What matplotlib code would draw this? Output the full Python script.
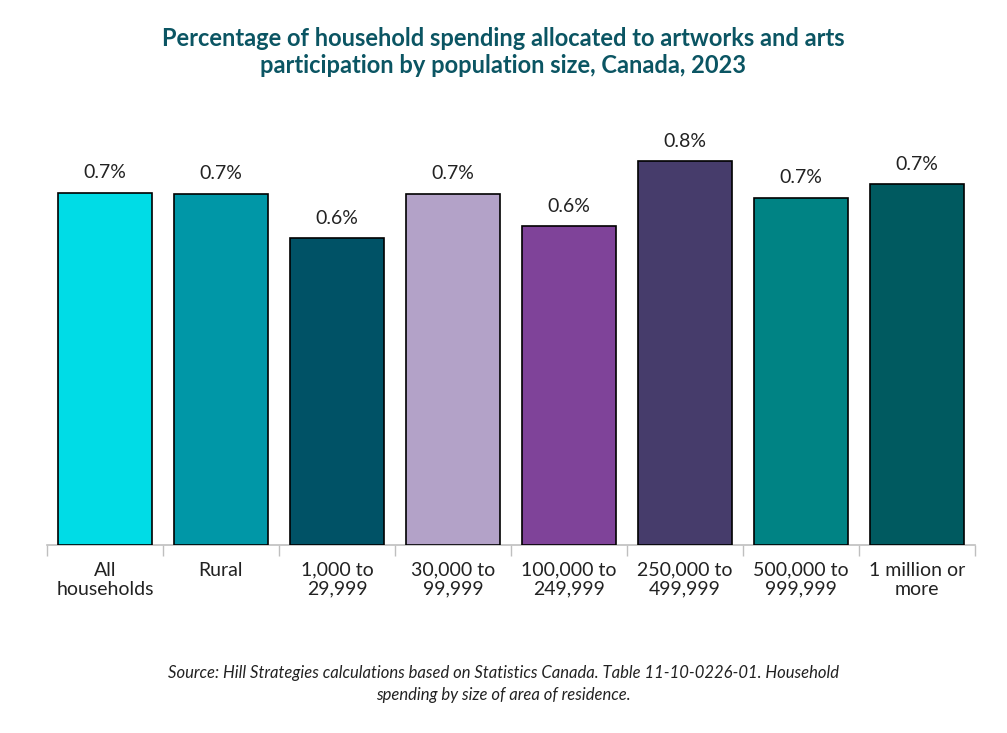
import matplotlib
matplotlib.use("Agg")
import matplotlib.pyplot as plt
import numpy as np

categories = ["All\nhouseholds", "Rural", "1,000 to\n29,999", "30,000 to\n99,999", "100,000 to\n249,999",
              "250,000 to\n499,999", "500,000 to\n999,999", "1 million or\nmore"]
values = [0.700, 0.698, 0.610, 0.698, 0.634, 0.762, 0.690, 0.716]
colors = ["#00DCE6", "#0097A7", "#005266", "#B3A2C8", "#7F4399", "#463C6B", "#008384", "#005A60"]

plt.rcParams['font.family'] = ['Lato', 'DejaVu Sans']
fig = plt.figure(figsize=(10.07, 7.33), dpi=100)
ax = fig.add_axes([47/1007, 1-545/733, 928/1007, (545-117)/733])
x = np.arange(len(categories))
ax.bar(x, values, width=0.81, color=colors, edgecolor="black", linewidth=1.2, zorder=3)
for xi, v in zip(x, values):
    ax.text(xi, v + 0.022, f"{v:.1f}%", ha="center", va="bottom", fontsize=14, color="#222222")
ax.set_xlim(-0.5, len(categories) - 0.5)
ax.set_ylim(0, 0.85)
ax.set_yticks([])
ax.set_xticks(x)
ax.set_xticklabels(categories, fontsize=14, color="#222222", linespacing=1.15)
ax.tick_params(axis="x", which="major", length=0, pad=12)
ax.set_xticks(np.arange(-0.5, len(categories)), minor=True)
ax.tick_params(axis="x", which="minor", length=8, color="#BFBFBF", width=1)
for s in ["top", "right", "left"]:
    ax.spines[s].set_visible(False)
ax.spines["bottom"].set_color("#BFBFBF")
ax.spines["bottom"].set_linewidth(1.2)

fig.text(0.5, 1-52/733, "Percentage of household spending allocated to artworks and arts\nparticipation by population size, Canada, 2023",
         ha="center", va="center", fontsize=17, fontweight="bold", color="#0B5563", linespacing=1.25)
fig.text(0.5, 1-684/733, "Source: Hill Strategies calculations based on Statistics Canada. Table 11-10-0226-01. Household\nspending by size of area of residence.",
         ha="center", va="center", fontsize=12, style="italic", color="#222222", linespacing=1.4)
fig.savefig("out.png", dpi=100)
